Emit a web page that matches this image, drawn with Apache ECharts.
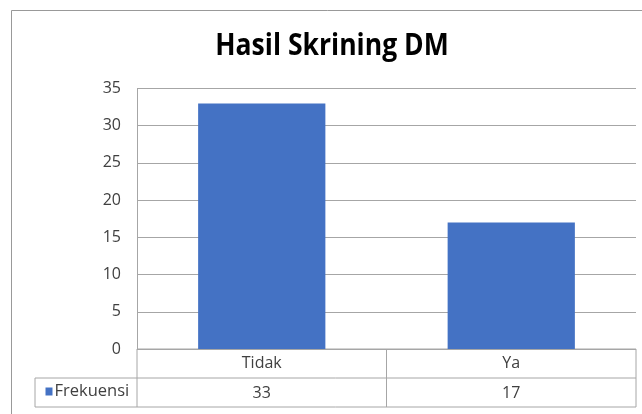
<!DOCTYPE html>
<html>
<head>
<meta charset="utf-8">
<script src="https://cdn.jsdelivr.net/npm/echarts@6/dist/echarts.min.js"></script>
<style>
html,body{margin:0;padding:0;background:#fff;}
#c{width:642px;height:414px;}
</style>
</head>
<body>
<div id="c"></div>
<script>
const titleText = 'Hasil Skrining DM';
const categories = ['Tidak', 'Ya'];
const seriesName = 'Frekuensi';
const frekuensi = [33, 17];
const yMin = 0, yMax = 35, yInterval = 5;

const FONT = '"Open Sans", sans-serif';
const TXT = '#404040';
const LINE = '#a6a6a6';
const GL = 137, GR = 636, GT = 88.5, GB = 349, ROW = 29, LEGL = 35;

const chart = echarts.init(document.getElementById('c'), null, {renderer: 'canvas'});

const mid = (GL + GR) / 2;
const tableLines = [
  [GL, GB, GR, GB],
  [LEGL, GB + ROW, GR, GB + ROW],
  [LEGL, GB + 2 * ROW, GR, GB + 2 * ROW],
  [LEGL, GB + ROW, LEGL, GB + 2 * ROW],
  [GL, GB, GL, GB + 2 * ROW],
  [mid, GB, mid, GB + 2 * ROW],
  [GR, GB, GR, GB + 2 * ROW]
];

const option = {
  animation: false,
  backgroundColor: '#fff',
  textStyle: {fontFamily: FONT},
  legend: {
    show: true,
    left: 40.5,
    top: 377.5,
    itemWidth: 7,
    itemHeight: 8,
    itemGap: 4,
    icon: 'rect',
    textStyle: {fontFamily: FONT, fontSize: 16.5, lineHeight: 18, color: TXT, padding: [0, 0, 0, -3]},
    data: [seriesName]
  },
  grid: {left: GL, right: 642 - GR, top: GT, bottom: 414 - GB, containLabel: false},
  xAxis: [{
    type: 'category',
    data: categories,
    position: 'bottom',
    axisLine: {show: false},
    axisTick: {show: false},
    axisLabel: {color: TXT, fontFamily: FONT, fontSize: 16, margin: 6}
  }, {
    type: 'category',
    data: frekuensi.map(String),
    position: 'bottom',
    offset: ROW,
    axisLine: {show: false},
    axisTick: {show: false},
    axisLabel: {color: TXT, fontFamily: FONT, fontSize: 16, margin: 7}
  }],
  yAxis: {
    type: 'value',
    min: yMin, max: yMax, interval: yInterval,
    axisLine: {show: true, lineStyle: {color: LINE, width: 1}},
    axisTick: {show: false},
    splitLine: {show: true, lineStyle: {color: LINE, width: 1}},
    axisLabel: {color: TXT, fontFamily: FONT, fontSize: 16, margin: 16}
  },
  series: [{
    name: seriesName,
    type: 'bar',
    data: frekuensi,
    barWidth: '51%',
    itemStyle: {color: '#4472c4'}
  }],
  graphic: [
    {type: 'rect', shape: {x: 11.5, y: 10.5, width: 700, height: 500}, style: {fill: 'none', stroke: '#999', lineWidth: 1}, silent: true, z: -10},
    {type: 'text', x: 332, y: 46.5, scaleX: 0.885, style: {text: titleText, font: 'bold 30px ' + FONT, fill: '#000', align: 'center', verticalAlign: 'middle'}}
  ].concat(tableLines.map(l => ({
    type: 'line', shape: {x1: l[0], y1: l[1], x2: l[2], y2: l[3]},
    style: {stroke: LINE, lineWidth: 1}, silent: true
  })))
};
chart.setOption(option);
</script>
</body>
</html>
